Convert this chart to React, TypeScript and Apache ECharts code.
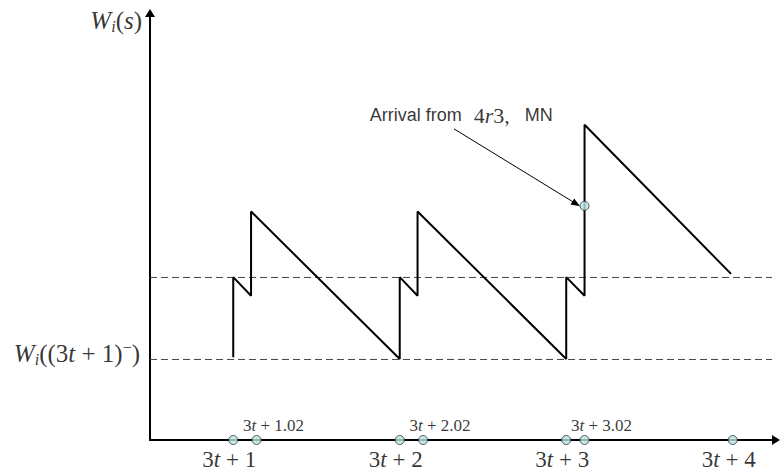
import { useEffect, useRef } from 'react';
import * as echarts from 'echarts';

// ---- data ----
const xMin = 0.5;
const xMax = 4.26;
const yMax = 5.27;

const tickX = [1, 2, 3, 4];
const tickLabels = ['3t + 1', '3t + 2', '3t + 3', '3t + 4'];

const arrivalX = [1.14, 2.14, 3.11];
const arrivalLabels = ['3t + 1.02', '3t + 2.02', '3t + 3.02'];

const sawX = [1, 1, 1.107, 1.107, 2, 2, 2.107, 2.107, 3, 3, 3.11, 3.11, 3.99];
const sawY = [1.02, 2.01, 1.78, 2.82, 1.0, 2.01, 1.78, 2.82, 1.0, 2.01, 1.78, 3.89, 2.05];

const dashLevels = [0.994, 2.006];
const dashEndX = 4.236;

const markedArrival = [3.11, 2.89];
const arrowFrom = [2.326, 3.84];
const arrowTo = [3.06, 2.915];
const notePos = [2.37, 4.01];

const yLabelLow = 'W_i((3t+1)^-)';
const yLabelTop = 'W_i(s)';

// ---- helpers ----
const serif = 'Liberation Serif';

function mathRich(s: string, up: string, it: string) {
  let out = '';
  let buf = '';
  let bufIt = false;
  const flush = () => {
    if (buf) out += `{${bufIt ? it : up}|${buf}}`;
    buf = '';
  };
  for (const ch of s) {
    const isLetter = /[a-zA-Z]/.test(ch);
    if (buf && isLetter !== bufIt) flush();
    bufIt = isLetter;
    buf += ch;
  }
  flush();
  return out;
}

const richStyles: any = {
  n: { fontFamily: serif, fontSize: 23, color: '#000', lineHeight: 26 },
  i: { fontFamily: serif, fontSize: 23, color: '#000', fontStyle: 'italic', lineHeight: 26 },
  wn: { fontFamily: serif, fontSize: 25, color: '#000', lineHeight: 28 },
  wi: { fontFamily: serif, fontSize: 25, color: '#000', fontStyle: 'italic', lineHeight: 28 },
  sub: { fontFamily: serif, fontSize: 16, color: '#000', fontStyle: 'italic', verticalAlign: 'bottom', lineHeight: 28 },
  sup: { fontFamily: serif, fontSize: 16, color: '#000', verticalAlign: 'top', lineHeight: 28 },
  sn: { fontFamily: serif, fontSize: 17, color: '#000' },
  si: { fontFamily: serif, fontSize: 17, color: '#000', fontStyle: 'italic' },
  s: { fontFamily: 'Liberation Sans', fontSize: 18, color: '#000' },
  m4: { fontFamily: serif, fontSize: 22, color: '#000', padding: [0, 0, 0, 12] },
  m: { fontFamily: serif, fontSize: 22, color: '#000' },
  mi: { fontFamily: serif, fontSize: 22, color: '#000', fontStyle: 'italic' },
};

function wLabel(s: string) {
  const m = s.match(/^W_i\((.*)\)$/);
  const inner = m ? m[1] : s;
  let body = inner;
  let sup = '';
  const supMatch = inner.match(/^\((.*)\)\^-$/);
  if (supMatch) {
    body = '(' + supMatch[1].replace('+', ' + ') + ')';
    sup = '−';
  }
  let res = '{wi|W}{sub|i}{wn|(}' + mathRich(body, 'wn', 'wi');
  if (sup) res += `{sup|${sup}}`;
  res += '{wn|)}';
  return res;
}

export default function App() {
  const ref = useRef<HTMLDivElement>(null);
  useEffect(() => {
    if (!ref.current) return;
    const chart = echarts.init(ref.current, undefined, { renderer: 'svg' });
    const dotStyle = { color: '#b9e1e1', borderColor: '#333', borderWidth: 1 };
    const option: any = {
      animation: false,
      backgroundColor: '#fff',
      grid: { left: 150, right: 6, top: 13, bottom: 32 },
      xAxis: {
        type: 'value',
        min: xMin,
        max: xMax,
        axisLine: {
          show: true,
          onZero: false,
          symbol: ['none', 'triangle'],
          symbolSize: [10, 8],
          lineStyle: { color: '#000', width: 2 },
        },
        axisTick: { show: false },
        axisLabel: { show: false },
        splitLine: { show: false },
      },
      yAxis: {
        type: 'value',
        min: 0,
        max: yMax,
        axisLine: {
          show: true,
          onZero: false,
          symbol: ['none', 'triangle'],
          symbolSize: [10, 8],
          lineStyle: { color: '#000', width: 2 },
        },
        axisTick: { show: false },
        axisLabel: { show: false },
        splitLine: { show: false },
      },
      series: [
        ...dashLevels.map((lvl) => ({
          type: 'line',
          data: [
            [xMin, lvl],
            [dashEndX, lvl],
          ],
          symbol: 'none',
          silent: true,
          lineStyle: { color: '#444', width: 1, type: [7, 4] },
          z: 1,
        })),
        {
          type: 'line',
          data: sawX.map((x, k) => [x, sawY[k]]),
          symbol: 'none',
          silent: true,
          lineStyle: { color: '#000', width: 2 },
          z: 3,
          markLine: {
            silent: true,
            symbol: ['none', 'triangle'],
            symbolSize: [7, 9],
            lineStyle: { color: '#000', width: 1, type: 'solid' },
            label: { show: false },
            data: [[{ coord: arrowFrom }, { coord: arrowTo }]],
          },
        },
        {
          type: 'scatter',
          clip: false,
          symbolSize: 9,
          itemStyle: dotStyle,
          z: 5,
          data: tickX.map((x, k) => ({
            value: [x, 0],
            label: {
              show: true,
              position: 'inside',
              offset: [-4, 19],
              formatter: mathRich(tickLabels[k], 'n', 'i'),
              rich: richStyles,
              color: '#000',
              textBorderWidth: 0,
            },
          })),
        },
        {
          type: 'scatter',
          clip: false,
          symbolSize: 9,
          itemStyle: dotStyle,
          z: 5,
          data: arrivalX.map((x, k) => ({
            value: [x, 0],
            label: {
              show: true,
              position: 'inside',
              offset: [17, -15],
              formatter: mathRich(arrivalLabels[k], 'sn', 'si'),
              rich: richStyles,
              color: '#000',
              textBorderWidth: 0,
            },
          })),
        },
        {
          type: 'scatter',
          clip: false,
          symbolSize: 9,
          itemStyle: dotStyle,
          z: 6,
          data: [markedArrival],
        },
        {
          type: 'scatter',
          clip: false,
          symbolSize: 0,
          itemStyle: { color: 'rgba(0,0,0,0)' },
          silent: true,
          data: [
            {
              value: notePos,
              label: {
                show: true,
                position: 'inside',
                formatter: '{s|Arrival from}{m4|4}{mi|r}{m|3,}{s|   MN}',
                rich: richStyles,
                color: '#000',
                textBorderWidth: 0,
              },
            },
            {
              value: [xMin, dashLevels[0]],
              label: {
                show: true,
                position: 'left',
                distance: 10,
                offset: [0, -6],
                formatter: wLabel(yLabelLow),
                rich: richStyles,
                color: '#000',
              },
            },
            {
              value: [xMin, yMax],
              label: {
                show: true,
                position: 'left',
                distance: 8,
                offset: [0, 7],
                formatter: wLabel(yLabelTop),
                rich: richStyles,
                color: '#000',
              },
            },
          ],
        },
      ],
    };
    chart.setOption(option);
    return () => chart.dispose();
  }, []);
  return (
    <div
      ref={ref}
      style={{ position: 'fixed', left: 0, top: 0, width: 782, height: 472, background: '#fff' }}
    />
  );
}
